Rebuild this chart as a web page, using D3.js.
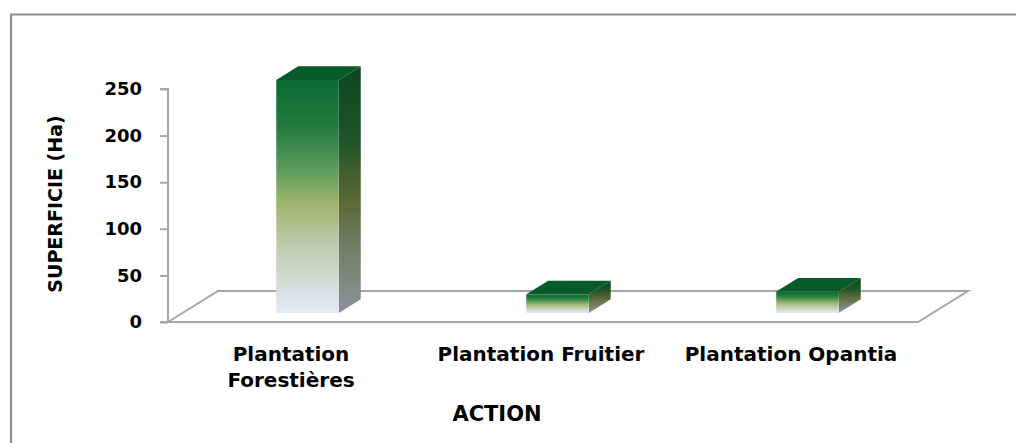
<!DOCTYPE html>
<html><head><meta charset="utf-8">
<script src="https://cdn.jsdelivr.net/npm/d3@7"></script>
<style>body{margin:0;background:#fff}svg{display:block}</style>
</head><body>
<script>
const categories = ["Plantation Forestières", "Plantation Fruitier", "Plantation Opantia"];
const categoryLines = [["Plantation", "Forestières"], ["Plantation Fruitier"], ["Plantation Opantia"]];
const values = [250, 20, 23];
const yTicks = [0, 50, 100, 150, 200, 250];
const yTitle = "SUPERFICIE (Ha)";
const xTitle = "ACTION";

const W = 1016, H = 443;
const svg = d3.select("body").append("svg").attr("width", W).attr("height", H);
const font = "'DejaVu Sans', sans-serif";

// frame
svg.append("rect").attr("x", 11).attr("y", 14.5).attr("width", W + 10).attr("height", H + 10)
  .attr("fill", "none").attr("stroke", "#8c8c8c").attr("stroke-width", 2);

const y = d3.scaleLinear().domain([0, 250]).range([322, 89]);
const x = d3.scaleBand().domain(categories).range([168, 918]).paddingInner(0.75).paddingOuter(0.375);
const depth = { dx: 50, dy: -31 };
const f1 = 0.29, f2 = 0.73;

const defs = svg.append("defs");
const fg = defs.append("linearGradient").attr("id", "front").attr("x1", 0).attr("y1", 0).attr("x2", 0).attr("y2", 1);
[[0, "#0a6b33"], [0.2, "#237a3e"], [0.38, "#5a9a5c"], [0.52, "#9db46b"], [0.72, "#bfcdb0"], [1, "#e4ebf8"]]
  .forEach(s => fg.append("stop").attr("offset", s[0]).attr("stop-color", s[1]));
const sg = defs.append("linearGradient").attr("id", "side").attr("x1", 0).attr("y1", 0).attr("x2", 0).attr("y2", 1);
[[0, "#0a4820"], [0.3, "#1f5428"], [0.52, "#586532"], [0.75, "#73806a"], [1, "#8c9299"]]
  .forEach(s => sg.append("stop").attr("offset", s[0]).attr("stop-color", s[1]));

// floor
const fl = x.range()[0], fr = x.range()[1], fy = y(0);
svg.append("path")
  .attr("d", `M${fl},${fy} L${fl + depth.dx},${fy + depth.dy} L${fr + depth.dx},${fy + depth.dy} L${fr},${fy} Z`)
  .attr("fill", "none").attr("stroke", "#a6a6a6").attr("stroke-width", 2);

// y axis
const ax = svg.append("g").attr("transform", `translate(${fl},0)`)
  .call(d3.axisLeft(y).tickValues(yTicks).tickSize(8).tickPadding(18));
ax.select(".domain").attr("stroke", "#a6a6a6").attr("stroke-width", 2).attr("d", `M-8,${y(250)}H0V${y(0)}H-8`);
ax.selectAll(".tick line").attr("stroke", "#a6a6a6").attr("stroke-width", 2);
ax.selectAll(".tick text").attr("font-family", font).attr("font-weight", "bold").attr("font-size", 18).attr("fill", "#000");

// bars
const w = x.bandwidth();
const ddx = depth.dx * (f2 - f1), ddy = depth.dy * (f2 - f1);
categories.forEach((c, i) => {
  const x0 = x(c) + depth.dx * f1;
  const yb = y(0) + depth.dy * f1;
  const yt = y(values[i]) + depth.dy * f1;
  const g = svg.append("g");
  g.append("path").attr("d", `M${x0 + w},${yb} L${x0 + w},${yt} L${x0 + w + ddx},${yt + ddy} L${x0 + w + ddx},${yb + ddy} Z`)
    .attr("fill", "url(#side)");
  g.append("rect").attr("x", x0).attr("y", yt).attr("width", w).attr("height", yb - yt).attr("fill", "url(#front)");
  g.append("path").attr("d", `M${x0},${yt} L${x0 + w},${yt} L${x0 + w + ddx},${yt + ddy} L${x0 + ddx},${yt + ddy} Z`)
    .attr("fill", "#075a2a");
});

// category labels
categories.forEach((c, i) => {
  const cx = x(c) + w / 2 - 2;
  const t = svg.append("text").attr("x", cx).attr("y", 361)
    .attr("text-anchor", "middle").attr("font-family", font).attr("font-weight", "bold").attr("font-size", 20).attr("fill", "#000");
  categoryLines[i].forEach((l, j) => t.append("tspan").attr("x", cx).attr("dy", j === 0 ? 0 : 26).text(l));
});

svg.append("text").attr("x", 497).attr("y", 421).attr("text-anchor", "middle")
  .attr("font-family", font).attr("font-weight", "bold").attr("font-size", 21).text(xTitle);
svg.append("text").attr("transform", "translate(62,204) rotate(-90)").attr("text-anchor", "middle")
  .attr("font-family", font).attr("font-weight", "bold").attr("font-size", 19).text(yTitle);
</script>
</body></html>
